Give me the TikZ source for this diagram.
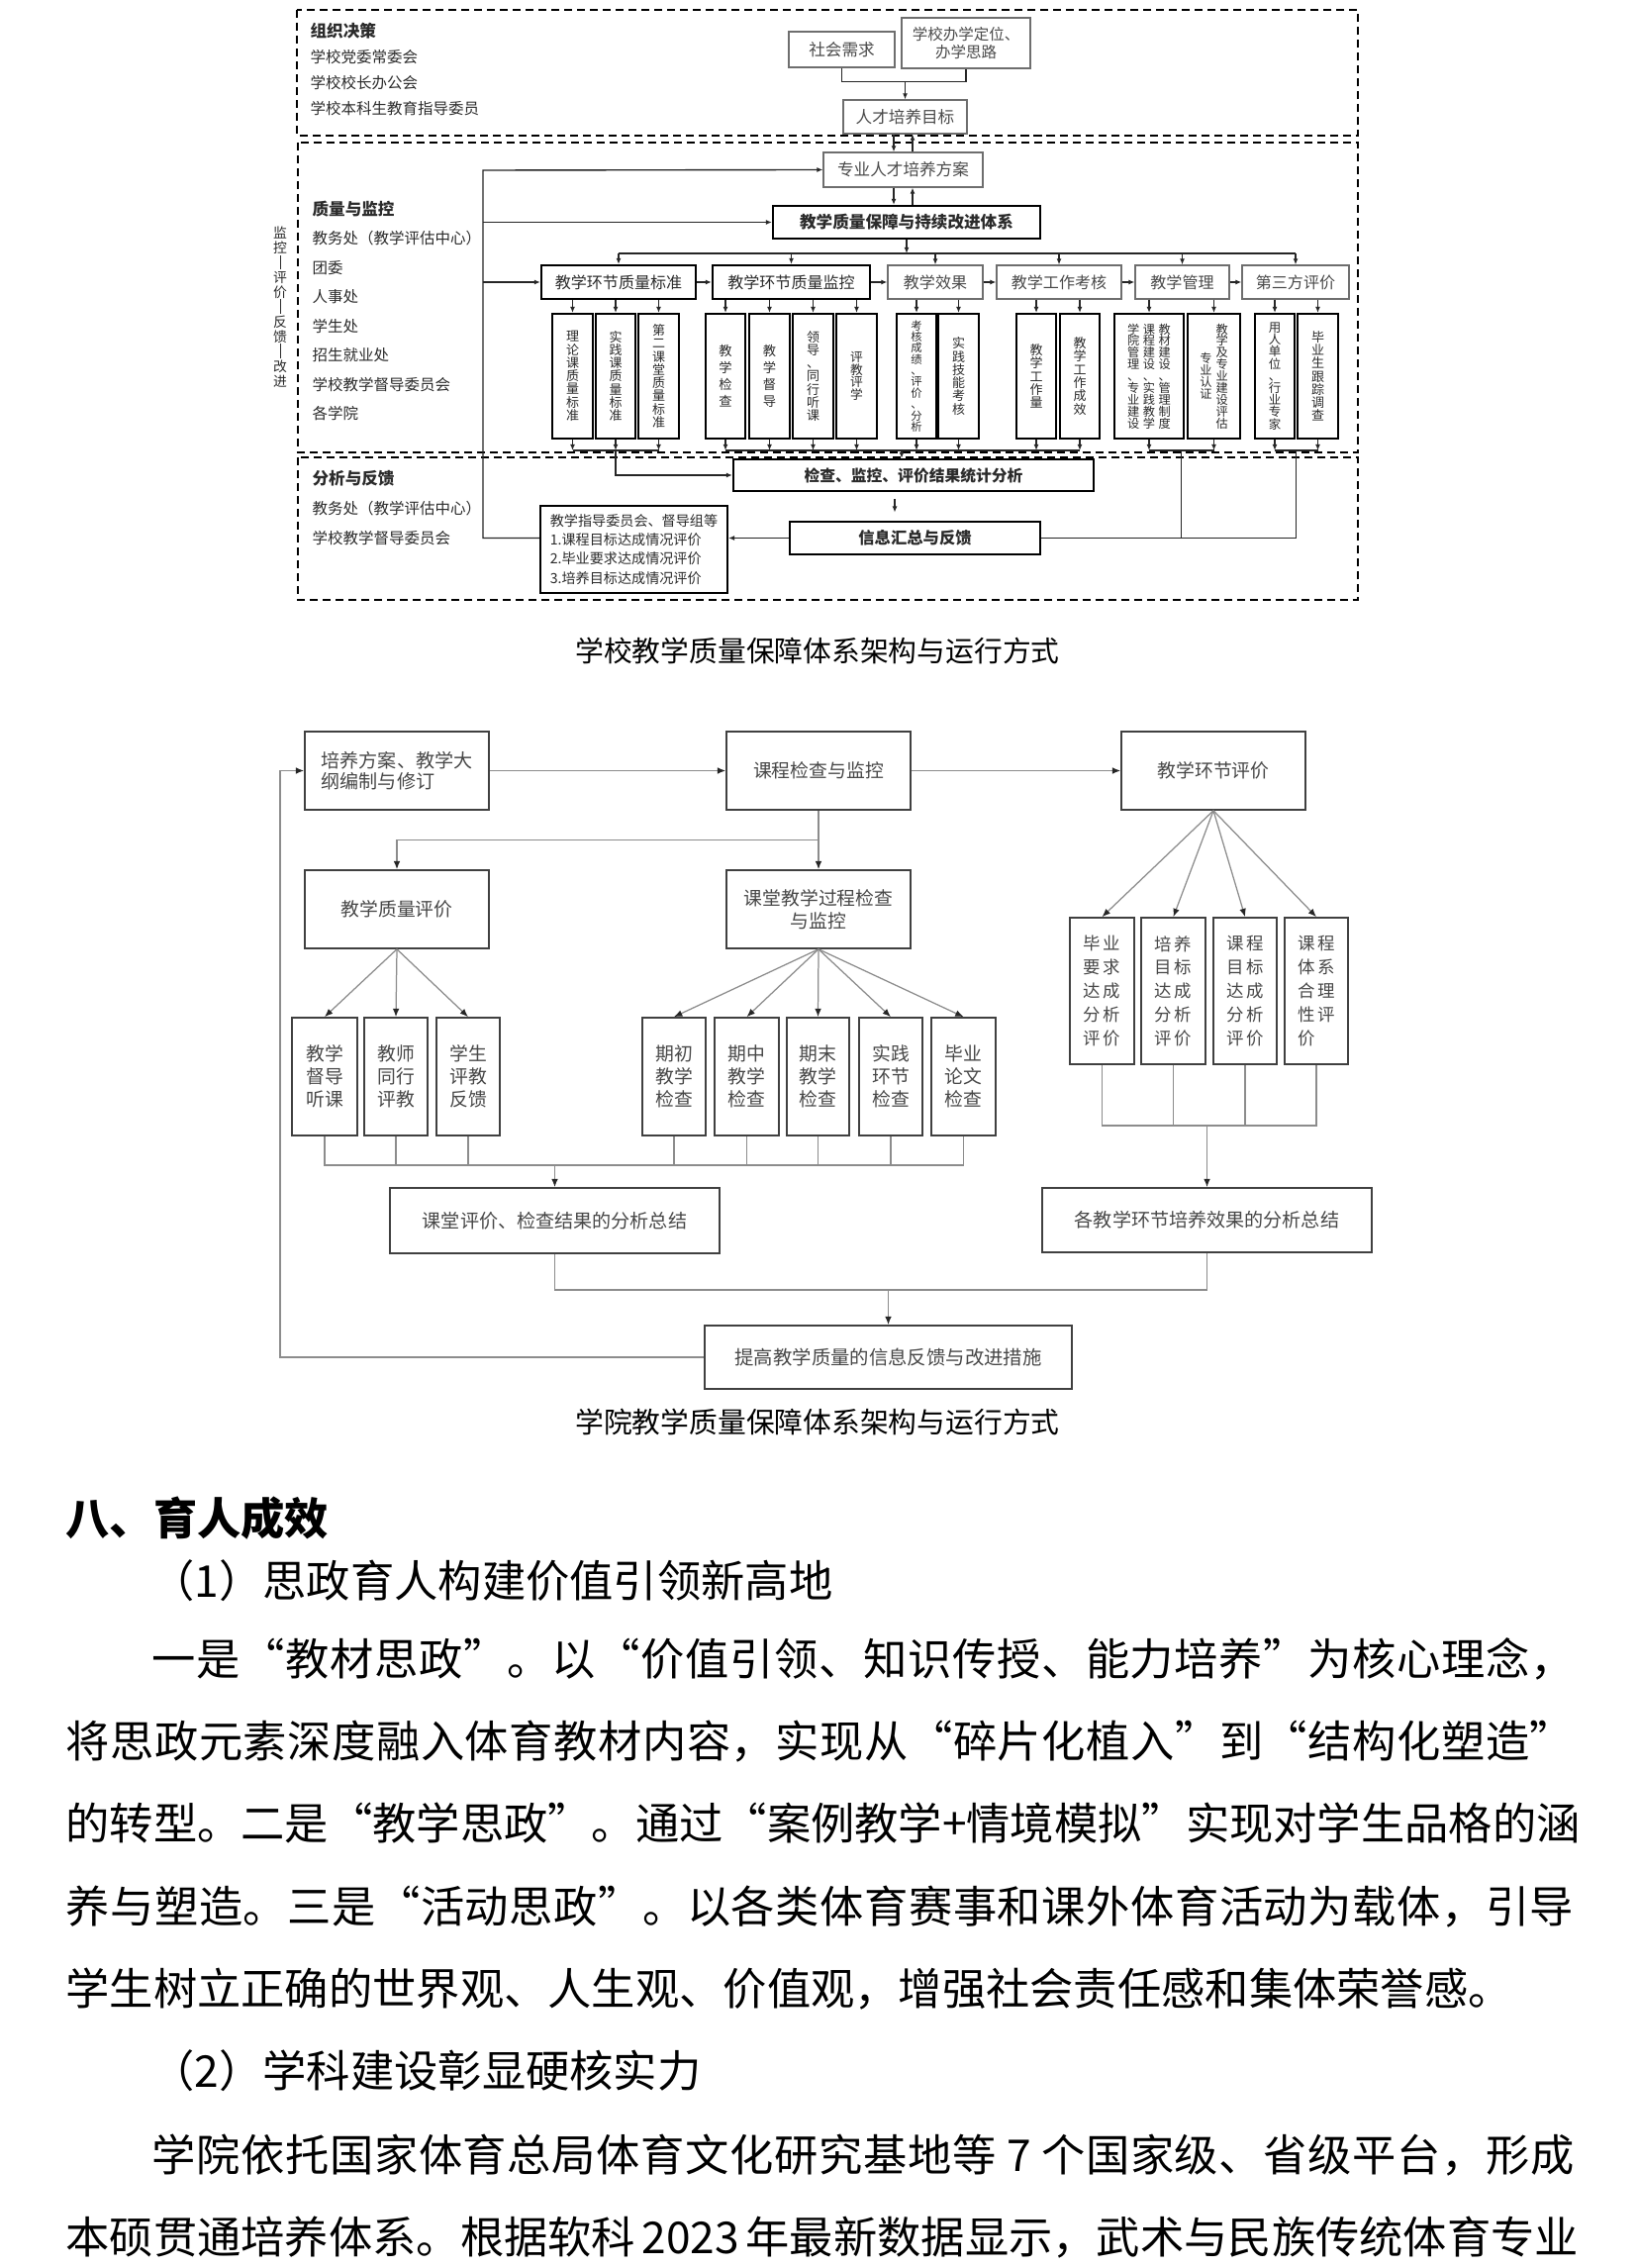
\documentclass[tikz,border=0pt]{standalone}
\usepackage{fontspec}
\setmainfont{Noto Sans CJK SC}
\usetikzlibrary{arrows.meta,positioning,calc}
\definecolor{ink}{HTML}{2B2B2B}
\definecolor{inkgray}{HTML}{4A4A4A}
\definecolor{rulegray}{HTML}{6E6E6E}
\definecolor{wiregray}{HTML}{8C8C8C}

\makeatletter
% characters stacked one under another
\newcommand\vtxt[1]{\vtop{\@tfor\vt@ch:=#1\do{\hbox{\vt@ch}}}}
% one printed line, stretched to the given width
\newcommand\spreadline[2]{\hbox to #1{\@tfor\sp@ch:=#2\do{\sp@ch\hfill}\unskip}}
\makeatother
\newcommand\vbar{\hbox to 1em{\hss\rule[-0.12em]{0.35pt}{1.05em}\hss}}
\newcommand\bodyfont{\fontsize{16}{20}\selectfont}

\tikzset{
    area/.style n args={4}{at={({(#1+#3)/2},{(#2+#4)/2})},
        minimum width={(#3-#1)*0.127mm},minimum height={(#4-#2)*0.127mm}},
    zone/.style={draw=black,line width=0.7pt,dash pattern=on 2.9pt off 1.8pt},
    tbox/.style={draw=rulegray,line width=0.45pt,inner sep=0pt,text=inkgray,
        font=\fontsize{5.8}{7}\selectfont,align=center},
    tboxb/.style={tbox,draw=black,line width=0.8pt,text=ink},
    vcol/.style={draw=black,line width=0.75pt,inner sep=0pt,text=ink,
        font=\fontsize{4.7}{4.8}\selectfont},
    orglist/.style={anchor=west,align=left,inner sep=0pt,text=ink},
    arrow/.style={-{Latex[length=2.2pt,width=1.8pt]},line width=0.5pt,draw=black!85},
    wire/.style={line width=0.5pt,draw=black!85},
    cbox/.style={draw=black!75,line width=0.6pt,inner sep=0pt,text=black!72,
        font=\fontsize{6.8}{8.3}\selectfont,align=center},
    cwire/.style={line width=0.45pt,draw=wiregray},
    carrow/.style={cwire,-{Latex[length=3pt,width=2.4pt,color=black!85]}},
    figcap/.style={font=\fontsize{10.4}{12}\selectfont,inner sep=0pt},
    textline/.style={anchor=west,inner sep=0pt,font=\bodyfont}
}

\begin{document}
\begin{tikzpicture}[x=0.127mm,y=-0.127mm]
\fill[white] (0,0) rectangle (1654,2291);
\useasboundingbox (0,0) rectangle (1654,2291);

%% school level
\draw[zone] (300,10) rectangle (1372,137);
\draw[zone] (301,144) rectangle (1372,457);
\draw[zone] (301,462) rectangle (1372,606);

\node[orglist,font=\fontsize{5.6}{9.3}\selectfont] (org) at (313,70)
{{\fontsize{6}{9.3}\selectfont\bfseries 组织决策}\\学校党委常委会\\学校校长办公会\\学校本科生教育指导委员};
\node[orglist,font=\fontsize{5.6}{10.66}\selectfont] (qc) at (315,314)
{{\fontsize{6}{10.66}\selectfont\bfseries 质量与监控}\\教务处（教学评估中心）\\团委\\人事处\\学生处\\招生就业处\\学校教学督导委员会\\各学院};
\node[orglist,font=\fontsize{5.6}{10.8}\selectfont] (af) at (315,513)
{{\fontsize{6}{10.8}\selectfont\bfseries 分析与反馈}\\教务处（教学评估中心）\\学校教学督导委员会};
\node[font=\fontsize{5}{5.4}\selectfont,text=ink,inner sep=0pt] (loop) at (283,310)
{\vtxt{监控{\vbar}评价{\vbar}反馈{\vbar}改进}};

\node[tbox,area={797}{32}{904}{68},font=\fontsize{6}{7}\selectfont] (sh) {社会需求};
\node[tbox,area={911}{18}{1041}{69},font=\fontsize{5.6}{6.6}\selectfont] (dw) {学校办学定位、\\办学思路};
\node[tbox,area={852}{101}{977}{135},font=\fontsize{6}{7}\selectfont] (mb) {人才培养目标};
\node[tbox,area={832}{154}{993}{189},font=\fontsize{6}{7}\selectfont] (fa) {专业人才培养方案};
\node[tboxb,area={781}{208}{1051}{241},font=\fontsize{6}{7}\selectfont\bfseries] (bz) {教学质量保障与持续改进体系};

\node[tboxb,area={547}{268}{703}{302}] (std) {教学环节质量标准};
\node[tboxb,area={720}{268}{879}{302}] (jk) {教学环节质量监控};
\node[tbox,area={897}{268}{993}{302}] (xg) {教学效果};
\node[tbox,area={1007}{268}{1133}{302}] (kh) {教学工作考核};
\node[tbox,area={1147}{268}{1242}{302}] (gl) {教学管理};
\node[tbox,area={1255}{268}{1363}{302}] (ds) {第三方评价};

\node[vcol,area={558}{317}{599}{443}] (s1) {\vtxt{理论课质量标准}};
\node[vcol,area={602}{317}{642}{443}] (s2) {\vtxt{实践课质量标准}};
\node[vcol,area={645}{317}{686}{443}] (s3) {\vtxt{第二课堂质量标准}};
\node[vcol,area={713}{317}{753}{443},font=\fontsize{4.8}{6.1}\selectfont] (j1) {\vtxt{教学检查}};
\node[vcol,area={757}{317}{798}{443},font=\fontsize{4.8}{6.1}\selectfont] (j2) {\vtxt{教学督导}};
\node[vcol,area={801}{317}{842}{443}] (j3) {\vtxt{领导、同行听课}};
\node[vcol,area={845}{317}{886}{443},font=\fontsize{4.6}{4.6}\selectfont] (j4) {\vtxt{评教评学}};
\node[vcol,area={906}{317}{946}{443},font=\fontsize{4.1}{4.1}\selectfont] (x1) {\vtxt{考核成绩、评价、分析}};
\node[vcol,area={948}{317}{989}{443}] (x2) {\vtxt{实践技能考核}};
\node[vcol,area={1027}{317}{1067}{443}] (k1) {\vtxt{教学工作量}};
\node[vcol,area={1071}{317}{1111}{443}] (k2) {\vtxt{教学工作成效}};
\node[vcol,area={1126}{317}{1196}{443},font=\fontsize{4.4}{4.3}\selectfont] (g1)
{\vtxt{学院管理、专业建设}\hspace{1.3pt}\vtxt{课程建设、实践教学}\hspace{1.3pt}\vtxt{教材建设、管理制度}};
\node[vcol,area={1200}{317}{1253}{443},font=\fontsize{4.4}{4.3}\selectfont] (g2)
{\raisebox{-10.8pt}{\vtxt{专业认证}}\hspace{1.5pt}\vtxt{教学及专业建设评估}};
\node[vcol,area={1268}{317}{1308}{443},font=\fontsize{4.5}{4.4}\selectfont] (d1) {\vtxt{用人单位、行业专家}};
\node[vcol,area={1311}{317}{1352}{443}] (d2) {\vtxt{毕业生跟踪调查}};

\node[tboxb,area={741}{464}{1105}{496},font=\fontsize{5.7}{7}\selectfont\bfseries] (jc) {检查、监控、评价结果统计分析};
\node[tboxb,area={798}{527}{1051}{560},font=\fontsize{5.9}{7}\selectfont\bfseries] (xx) {信息汇总与反馈};
\node[tboxb,area={546}{511}{735}{599},align=left,font=\fontsize{5.1}{6.9}\selectfont] (jd)
{教学指导委员会、督导组等\\1.课程目标达成情况评价\\2.毕业要求达成情况评价\\3.培养目标达成情况评价};

\coordinate (jy) at (0,82);
\coordinate (dnx) at (903,0);
\coordinate (upx) at (922,0);
\coordinate (trunk) at (488,172);
\coordinate (busy) at (0,256);
\coordinate (coly) at (0,455);

\draw[wire] (sh.south) -- ++(0,14) -| (dw.south);
\draw[arrow] (mb.north |- jy) -- (mb.north);
\draw[arrow] (mb.south -| dnx) -- (fa.north -| dnx);
\draw[arrow] (fa.north -| upx) -- (mb.south -| upx);
\draw[arrow] (fa.south -| dnx) -- (bz.north -| dnx);
\draw[arrow] (bz.north -| upx) -- (fa.south -| upx);

\draw[arrow] (bz.south) -- (bz.south |- busy);
\draw[wire] (std.north |- busy) -- (ds.north |- busy);
\foreach \n in {std,jk,xg,kh,gl,ds}
    \draw[arrow] (\n.north |- busy) -- (\n.north);
\draw[arrow] (std.east) -- (jk.west);
\draw[arrow] (jk.east) -- (xg.west);
\draw[arrow] (xg.east) -- (kh.west);
\draw[arrow] (kh.east) -- (gl.west);
\draw[arrow] (gl.east) -- (ds.west);

\foreach \p/\c in {std/s1,std/s2,std/s3,jk/j1,jk/j2,jk/j3,jk/j4,xg/x1,xg/x2,kh/k1,kh/k2,gl/g1,gl/g2,ds/d1,ds/d2}{
    \draw[arrow] (\c.north |- \p.south) -- (\c.north);
    \draw[arrow] (\c.south) -- (\c.south |- coly);
}
\draw[wire] (s1.south |- coly) -- (s3.south |- coly);
\draw[wire] (j1.south |- coly) -- (k2.south |- coly);
\draw[wire] (g1.south |- coly) -- (g2.south |- coly);
\draw[wire] (d1.south |- coly) -- (d2.south |- coly);
\draw[arrow] (s2.south |- coly) |- (jc.west);
\draw[arrow] ($(jc.north)+(-12,-9)$) -- ($(jc.north)+(-12,0)$);

\coordinate (gk) at ($(g1.south |- coly)!.5!(g2.south |- coly)$);
\coordinate (dk) at ($(d1.south |- coly)!.5!(d2.south |- coly)$);
\draw[wire] (xx.east) -| (dk);
\draw[wire] (gk) -- (gk |- xx.east);

\coordinate (jcs) at ($(jc.south)+(-19,0)$);
\draw[arrow,shorten <=2.5pt,shorten >=3pt] (jcs) -- (jcs |- xx.north);
\draw[arrow] (xx.west) -- (xx.west -| jd.east);

% feedback trunk
\draw[arrow] (xx.west -| jd.west) -| (trunk) -- (fa.west);
\draw[arrow] (trunk |- bz.west) -- (bz.west);
\draw[arrow] (trunk |- std.west) -- (std.west);

\node[figcap] (cap1) at (826,657) {学校教学质量保障体系架构与运行方式};

%% college level
\node[cbox,area={308}{739}{494}{818},align=left,font=\fontsize{6.9}{7.6}\selectfont] (pf) {培养方案、教学大\\纲编制与修订};
\node[cbox,area={734}{739}{920}{818}] (kc) {课程检查与监控};
\node[cbox,area={1133}{739}{1319}{818}] (hp) {教学环节评价};
\node[cbox,area={308}{879}{494}{958}] (zp) {教学质量评价};
\node[cbox,area={734}{879}{920}{958}] (kt) {课堂教学过程检查\\与监控};

\node[cbox,area={295}{1028}{361}{1147}] (a1) {教学\\督导\\听课};
\node[cbox,area={368}{1028}{432}{1147}] (a2) {教师\\同行\\评教};
\node[cbox,area={441}{1028}{505}{1147}] (a3) {学生\\评教\\反馈};
\node[cbox,area={649}{1028}{713}{1147}] (b1) {期初\\教学\\检查};
\node[cbox,area={722}{1028}{787}{1147}] (b2) {期中\\教学\\检查};
\node[cbox,area={795}{1028}{858}{1147}] (b3) {期末\\教学\\检查};
\node[cbox,area={868}{1028}{932}{1147}] (b4) {实践\\环节\\检查};
\node[cbox,area={941}{1028}{1006}{1147}] (b5) {毕业\\论文\\检查};

\node[cbox,area={1081}{927}{1146}{1075},align=left,font=\fontsize{6.3}{8.6}\selectfont] (c1) {毕\,业\\要\,求\\达\,成\\分\,析\\评\,价};
\node[cbox,area={1153}{927}{1218}{1075},align=left,font=\fontsize{6.3}{8.6}\selectfont] (c2) {培\,养\\目\,标\\达\,成\\分\,析\\评\,价};
\node[cbox,area={1226}{927}{1290}{1075},align=left,font=\fontsize{6.3}{8.6}\selectfont] (c3) {课\,程\\目\,标\\达\,成\\分\,析\\评\,价};
\node[cbox,area={1298}{927}{1362}{1075},align=left,font=\fontsize{6.3}{8.6}\selectfont] (c4) {课\,程\\体\,系\\合\,理\\性\,评\\价};

\node[cbox,area={394}{1200}{727}{1266},font=\fontsize{6.9}{8}\selectfont] (kz) {课堂评价、检查结果的分析总结};
\node[cbox,area={1053}{1200}{1386}{1265},font=\fontsize{6.9}{8}\selectfont] (gz) {各教学环节培养效果的分析总结};
\node[cbox,area={712}{1339}{1083}{1403},font=\fontsize{7}{8}\selectfont] (tg) {提高教学质量的信息反馈与改进措施};

\coordinate (acol) at (0,1177);
\coordinate (ccol) at (0,1137);
\coordinate (fcol) at (0,1303);
\coordinate (loopx) at (283,0);

\draw[carrow] (pf.east) -- (kc.west);
\draw[carrow] (kc.east) -- (hp.west);
\draw[carrow] (kc.south) -- (kt.north);
\draw[carrow] ($(kc.south)!.5!(kt.north)$) -| (zp.north);
\foreach \n in {a1,a2,a3}
    \draw[carrow] (zp.south) -- (\n.north);
\foreach \n in {b1,b2,b3,b4,b5}
    \draw[carrow] (kt.south) -- (\n.north);
\foreach \n in {c1,c2,c3,c4}
    \draw[carrow] (hp.south) -- (\n.north);

\draw[cwire] (a1.south) |- (b5.south |- acol) -- (b5.south);
\foreach \n in {a2,a3,b1,b2,b3,b4}
    \draw[cwire] (\n.south) -- (\n.south |- acol);
\draw[carrow] (kz.north |- acol) -- (kz.north);
\draw[cwire] (c1.south) |- (c4.south |- ccol) -- (c4.south);
\foreach \n in {c2,c3}
    \draw[cwire] (\n.south) -- (\n.south |- ccol);
\draw[carrow] (gz.north |- ccol) -- (gz.north);
\draw[cwire] (kz.south) |- (gz.south |- fcol) -- (gz.south);
\draw[carrow] (tg.north |- fcol) -- (tg.north);
\draw[carrow] (tg.west) -| (loopx |- pf.west) -- (pf.west);

\node[figcap] (cap2) at (826,1436) {学院教学质量保障体系架构与运行方式};

%% running text
\node[textline,font=\bodyfont\bfseries] (h8) at (66,1534) {八、育人成效};
\node[textline] (h1) at (152,1597) {（1）思政育人构建价值引领新高地};
\node[textline] (p1) at (153,1676) {\spreadline{182.5mm}{一是“教材思政”。以“价值引领、知识传授、能力培养”为核心理念，}};
\node[textline] (p2) at (66,1759) {\spreadline{193.5mm}{将思政元素深度融入体育教材内容，实现从“碎片化植入”到“结构化塑造”}};
\node[textline] (p3) at (66,1842) {\spreadline{193.5mm}{的转型。二是“教学思政”。通过“案例教学+情境模拟”实现对学生品格的涵}};
\node[textline] (p4) at (66,1926) {\spreadline{193.5mm}{养与塑造。三是“活动思政”。以各类体育赛事和课外体育活动为载体，引导}};
\node[textline] (p5) at (66,2009) {学生树立正确的世界观、人生观、价值观，增强社会责任感和集体荣誉感。};
\node[textline] (h2) at (152,2092) {（2）学科建设彰显硬核实力};
\node[textline] (p6) at (153,2177) {\spreadline{182.5mm}{学院依托国家体育总局体育文化研究基地等{ 7 }个国家级、省级平台，形成}};
\node[textline] (p7) at (66,2260) {\spreadline{193.5mm}{本硕贯通培养体系。根据软科{ 2023 }年最新数据显示，武术与民族传统体育专业}};

\end{tikzpicture}
\end{document}
